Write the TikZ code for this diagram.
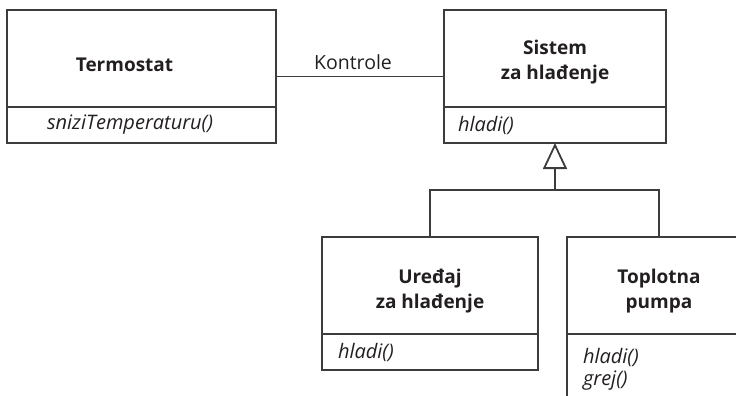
\documentclass[tikz,border=0pt]{standalone}
\usepackage{fontspec}
\setmainfont{Open Sans}
\usetikzlibrary{positioning, arrows.meta}
\definecolor{linija}{HTML}{3C3C3C}
\definecolor{tekst}{HTML}{231F20}
\tikzset{
  odeljak/.style={draw=linija, line width=1.8pt, outer sep=0pt, inner sep=0pt, minimum height=97pt},
  ime/.style={text=tekst, font=\fontsize{19}{25}\selectfont\bfseries, align=center},
  metode/.style={draw=linija, line width=1.8pt, outer sep=0pt, inner ysep=0pt, text=tekst, font=\fontsize{20}{22}\selectfont\itshape, align=left, minimum height=36pt},
  veza/.style={draw=linija, line width=1.8pt},
}

\begin{document}
\begin{tikzpicture}[x=1pt, y=-1pt]
  \useasboundingbox (0,0) rectangle (736,396);
  \clip (0,0) rectangle (736,396);
  % Termostat
  \node[odeljak, minimum width=269pt] (termostat) at (141.5,58.5) {};
  \node[ime] (termostat-ime) at ([xshift=-17pt, yshift=-6pt]termostat.center) {Termostat};
  \node[metode, below=0pt of termostat, text width=189pt, inner xsep=40pt] (termostat-metode) {sniziTemperaturu()};
  % Sistem za hladjenje
  \node[odeljak, minimum width=222pt] (sistem) at (555,58.5) {};
  \node[ime] (sistem-ime) at ([yshift=-4pt]sistem.center) {Sistem\\za hlađenje};
  \node[metode, below=0pt of sistem, text width=194pt, inner xsep=14pt] (sistem-metode) {hladi()};
  % Uredjaj za hladjenje
  \node[odeljak, minimum width=216pt] (uredjaj) at (430,285.5) {};
  \node[ime] (uredjaj-ime) at ([yshift=-6pt]uredjaj.center) {Uređaj\\za hlađenje};
  \node[metode, below=0pt of uredjaj, text width=184pt, inner xsep=16pt] (uredjaj-metode) {hladi()};
  % Toplotna pumpa (odsecena desno i dole)
  \node[odeljak, minimum width=184pt] (pumpa) at (659,285.5) {};
  \node[ime] (pumpa-ime) at ([yshift=-6pt]pumpa.center) {Toplotna\\pumpa};
  \node[metode, below=0pt of pumpa, text width=152pt, inner xsep=16pt, minimum height=70pt] (pumpa-metode) {hladi()\\grej()};
  % veze
  \draw[veza] ([yshift=-18pt]termostat.east) -- node[above=3pt, xshift=-7pt, text=tekst, font=\fontsize{19.5}{22}\selectfont] (kontrole) {Kontrole} ([yshift=-18pt]sistem.west);
  \coordinate (racva) at (555,190);
  \draw[veza] (uredjaj.north) |- (racva) -| (pumpa.north);
  \draw[veza, -{Triangle[open, length=26pt, width=24pt]}] (racva) -- (sistem-metode.south);
\end{tikzpicture}
\end{document}
